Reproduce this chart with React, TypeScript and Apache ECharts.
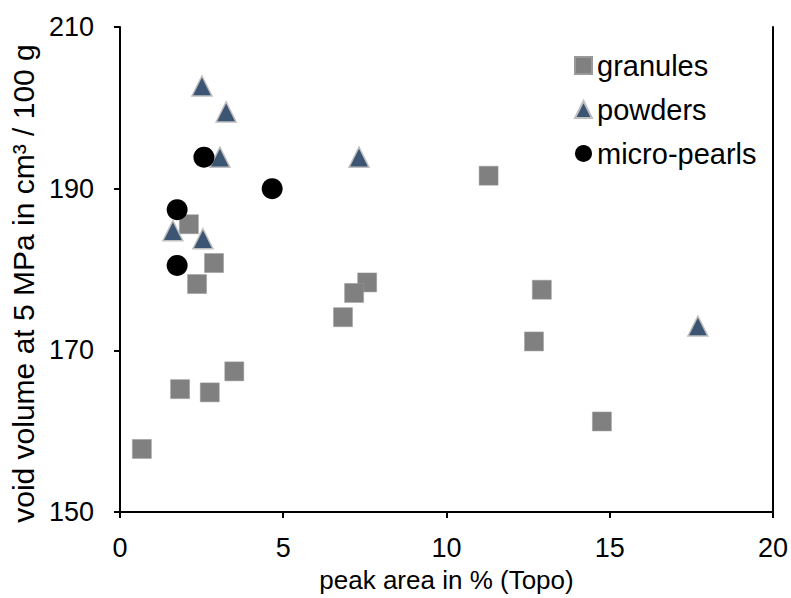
import React, { useEffect, useRef } from "react";
import * as echarts from "echarts";

const granules: [number, number][] = [
  [0.67, 157.8], [1.84, 165.2], [2.75, 164.8], [3.5, 167.4], [2.11, 185.6],
  [2.88, 180.8], [2.36, 178.2], [7.57, 178.4], [7.17, 177.1], [6.83, 174.1],
  [11.29, 191.6], [12.92, 177.5], [12.68, 171.1], [14.76, 161.2],
];
const powders: [number, number][] = [
  [2.51, 202.7], [3.25, 199.5], [3.06, 193.9], [7.32, 193.9], [1.62, 184.8],
  [2.54, 183.8], [17.7, 173.0],
];
const microPearls: [number, number][] = [
  [2.57, 193.9], [4.66, 190.0], [1.75, 187.4], [1.75, 180.5],
];
const xTicks = [0, 5, 10, 15, 20];
const yTicks = [150, 170, 190, 210];

const FONT = "Liberation Sans, Arial, sans-serif";

export default function App() {
  const ref = useRef<HTMLDivElement>(null);
  useEffect(() => {
    if (!ref.current) return;
    const chart = echarts.init(ref.current, undefined, { renderer: "svg" });
    chart.setOption({
      animation: false,
      backgroundColor: "#fff",
      textStyle: { fontFamily: FONT },
      grid: { left: 120, top: 27, right: 18, bottom: 86, containLabel: false },
      legend: {
        orient: "vertical",
        left: 569,
        top: 46,
        itemGap: 15,
        itemWidth: 17,
        itemHeight: 17,
        textStyle: { fontSize: 29, color: "#000", fontFamily: FONT, lineHeight: 29 },
        data: ["granules", "powders", "micro-pearls"],
      },
      xAxis: {
        type: "value",
        min: xTicks[0],
        max: xTicks[xTicks.length - 1],
        interval: 5,
        name: "peak area in % (Topo)",
        nameLocation: "middle",
        nameGap: 55,
        nameTextStyle: { fontSize: 26, color: "#000", fontFamily: FONT },
        axisLine: { lineStyle: { color: "#000", width: 2 } },
        axisTick: { show: true, length: 6, lineStyle: { color: "#000", width: 2 } },
        axisLabel: { fontSize: 27, color: "#000", margin: 22, fontFamily: FONT },
        splitLine: { show: false },
      },
      yAxis: [
        {
          type: "value",
          min: yTicks[0],
          max: yTicks[yTicks.length - 1],
          interval: 20,
          name: "void volume at 5 MPa in cm³ / 100 g",
          nameLocation: "middle",
          nameGap: 82,
          nameTextStyle: { fontSize: 30, color: "#000", fontFamily: FONT, padding: [0, 28, 0, 0] },
          axisLine: { show: true, lineStyle: { color: "#000", width: 2 } },
          axisTick: { show: true, length: 6, lineStyle: { color: "#000", width: 2 } },
          axisLabel: { fontSize: 27, color: "#000", margin: 26, fontFamily: FONT },
          splitLine: { show: false },
        },
        {
          type: "value",
          position: "right",
          min: yTicks[0],
          max: yTicks[yTicks.length - 1],
          interval: 20,
          axisLine: { show: true, lineStyle: { color: "#000", width: 2 } },
          axisTick: { show: false },
          axisLabel: { show: false },
          splitLine: { show: false },
        },
      ],
      series: [
        {
          name: "granules",
          type: "scatter",
          symbol: "rect",
          symbolSize: 19,
          data: granules,
          itemStyle: { color: "#808080", borderColor: "#9a9a9a", borderWidth: 0.5, opacity: 1 },
        },
        {
          name: "powders",
          type: "scatter",
          symbol: "triangle",
          symbolSize: 20,
          data: powders,
          itemStyle: { color: "#3b5573", borderColor: "#bfbfbf", borderWidth: 1.5, opacity: 1 },
        },
        {
          name: "micro-pearls",
          type: "scatter",
          symbol: "circle",
          symbolSize: 21,
          data: microPearls,
          itemStyle: { color: "#000", opacity: 1 },
        },
      ],
    });
    return () => chart.dispose();
  }, []);
  return <div ref={ref} style={{ width: 791, height: 598, position: "absolute", left: 0, top: 0 }} />;
}
